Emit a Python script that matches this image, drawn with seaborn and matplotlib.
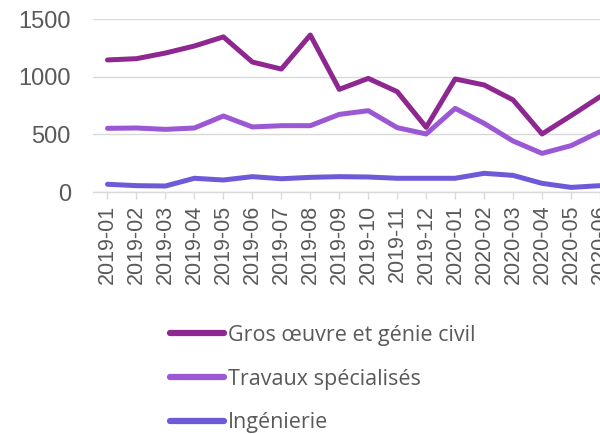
import matplotlib
matplotlib.use("Agg")
import matplotlib.pyplot as plt
import seaborn as sns
import pandas as pd

months = ["2019-01", "2019-02", "2019-03", "2019-04", "2019-05", "2019-06",
          "2019-07", "2019-08", "2019-09", "2019-10", "2019-11", "2019-12",
          "2020-01", "2020-02", "2020-03", "2020-04", "2020-05", "2020-06"]
gros_oeuvre = [1145, 1156, 1205, 1266, 1345, 1127, 1066, 1361, 890, 985, 870, 561,
               980, 928, 798, 503, 662, 826]
travaux = [552, 555, 543, 555, 659, 564, 575, 575, 673, 705, 558, 503,
           725, 595, 442, 335, 402, 523]
ingenierie = [67, 55, 52, 119, 104, 133, 115, 127, 133, 130, 119, 119,
              119, 162, 144, 75, 40, 55]
series_names = ["Gros œuvre et génie civil", "Travaux spécialisés", "Ingénierie"]
colors = ["#8e2790", "#9c57d4", "#6e5ad9"]

rows = []
for name, vals in zip(series_names, [gros_oeuvre, travaux, ingenierie]):
    for i, (m, v) in enumerate(zip(months, vals)):
        rows.append({"idx": i, "mois": m, "serie": name, "valeur": v})
df = pd.DataFrame(rows)

sns.set_theme(style="white")
plt.rcParams["font.family"] = ["Liberation Sans", "DejaVu Sans"]

fig = plt.figure(figsize=(6.0, 4.34), dpi=100)
ax = fig.add_axes([93 / 600, 1 - 192 / 434, (614.5 - 93) / 600, (192 - 19) / 434])

sns.lineplot(data=df, x="idx", y="valeur", hue="serie", hue_order=series_names,
             palette=colors, linewidth=3.6, ax=ax, legend=True,
             solid_capstyle="round")

ax.set_xlim(-0.5, 17.5)
ax.set_ylim(0, 1500)
ax.set_xticks(range(len(months)))
ax.set_xticklabels(months, rotation=90, fontsize=15.5, color="#595959")
ax.set_yticks([0, 500, 1000, 1500])
ax.set_yticklabels(["0", "500", "1000", "1500"], fontsize=17, color="#595959")
ax.tick_params(axis="x", length=5, color="#d9d9d9", width=1, pad=4, bottom=True)
ax.tick_params(axis="y", length=0, pad=16)
ax.set_xlabel("")
ax.set_ylabel("")
ax.grid(axis="y", color="#d9d9d9", linewidth=1)
for s in ["top", "right", "left"]:
    ax.spines[s].set_visible(False)
ax.spines["bottom"].set_color("#d9d9d9")
ax.spines["bottom"].set_linewidth(1)

handles, labels = ax.get_legend_handles_labels()
ax.legend_.remove()
leg = fig.legend(handles, labels, loc="upper left",
                 bbox_to_anchor=(170 / 600, 1 - 325 / 434),
                 frameon=False, handlelength=2.5, handletextpad=0.2,
                 borderpad=0, borderaxespad=0,
                 labelspacing=1.05, labelcolor="#595959",
                 prop={"family": ["Open Sans", "DejaVu Sans"], "size": 15.5})
for h in leg.get_lines():
    h.set_linewidth(4.5)
    h.set_solid_capstyle("round")

fig.savefig("out.png", dpi=100)
